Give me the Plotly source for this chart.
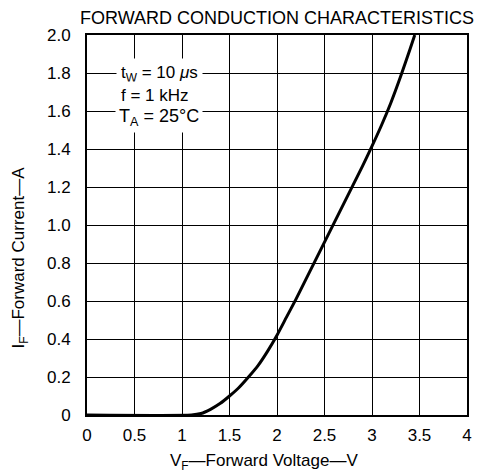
import plotly.graph_objects as go

# Forward voltage (V) and forward current (A)
vf = [0.0, 1.1, 1.2, 1.3, 1.4, 1.5, 1.6, 1.7, 1.8, 1.9, 2.0, 2.1, 2.2, 2.3, 2.4, 2.5,
      2.6, 2.7, 2.8, 2.9, 3.0, 3.1, 3.2, 3.3, 3.4, 3.45]
if_ = [0.0, 0.0, 0.008, 0.03, 0.06, 0.10, 0.145, 0.20, 0.26, 0.335, 0.42, 0.515, 0.61, 0.71, 0.81, 0.91,
       1.01, 1.11, 1.21, 1.31, 1.415, 1.525, 1.645, 1.78, 1.925, 2.0]

x_tickvals = [0, 0.5, 1, 1.5, 2, 2.5, 3, 3.5, 4]
x_ticktext = ["0", "0.5", "1", "1.5", "2", "2.5", "3", "3.5", "4"]
y_tickvals = [0, 0.2, 0.4, 0.6, 0.8, 1.0, 1.2, 1.4, 1.6, 1.8, 2.0]
y_ticktext = ["0", "0.2", "0.4", "0.6", "0.8", "1.0", "1.2", "1.4", "1.6", "1.8", "2.0"]

FONT = "Liberation Sans, Arial, Helvetica, sans-serif"

fig = go.Figure()
fig.add_trace(go.Scatter(x=vf, y=if_, mode="lines",
                         line=dict(color="black", width=3, shape="spline", smoothing=0.6),
                         hoverinfo="skip", showlegend=False))

axis_common = dict(showgrid=True, gridcolor="black", gridwidth=1,
                   showline=True, linecolor="black", linewidth=2, mirror=True,
                   zeroline=False, ticks="", tickfont=dict(family=FONT, size=17, color="black"))

fig.update_xaxes(range=[0, 4], tickvals=x_tickvals, ticktext=x_ticktext,
                 ticklabelstandoff=4, **axis_common)
fig.update_yaxes(range=[0, 2.0], tickvals=y_tickvals, ticktext=y_ticktext,
                 ticklabelstandoff=11, **axis_common)

anns = [
    dict(text="FORWARD CONDUCTION CHARACTERISTICS", xref="paper", yref="paper",
         x=0.5, y=1.045, xanchor="center", yanchor="middle", showarrow=False,
         font=dict(family=FONT, size=18, color="black")),
    dict(text="V<sub>F</sub>—Forward Voltage—V", xref="paper", yref="paper",
         x=0.465, y=-0.124, xanchor="center", yanchor="middle", showarrow=False,
         font=dict(family=FONT, size=17, color="black")),
    dict(text="I<sub>F</sub>—Forward Current—A", xref="paper", yref="paper",
         x=-0.175, y=0.413, xanchor="center", yanchor="middle", showarrow=False,
         textangle=-90, font=dict(family=FONT, size=17, color="black")),
    dict(text="t<sub>W</sub> = 10 <i>μ</i>s", xref="x", yref="y", x=0.30, y=1.795,
         xanchor="left", yanchor="middle", showarrow=False, bgcolor="white", borderpad=4,
         font=dict(family=FONT, size=17, color="black")),
    dict(text="f = 1 kHz", xref="x", yref="y", x=0.30, y=1.68,
         xanchor="left", yanchor="middle", showarrow=False, bgcolor="white", borderpad=4,
         font=dict(family=FONT, size=17, color="black")),
    dict(text="T<sub>A</sub> = 25°C", xref="x", yref="y", x=0.29, y=1.565,
         xanchor="left", yanchor="middle", showarrow=False, bgcolor="white", borderpad=3,
         font=dict(family=FONT, size=18, color="black")),
]

# The page body adds an 8px margin, so the figure is 8px smaller and margins are shifted
fig.update_layout(width=476, height=466, margin=dict(l=79, r=14, t=27, b=59),
                  paper_bgcolor="white", plot_bgcolor="white",
                  annotations=anns, showlegend=False)

fig.write_html("out.html")
